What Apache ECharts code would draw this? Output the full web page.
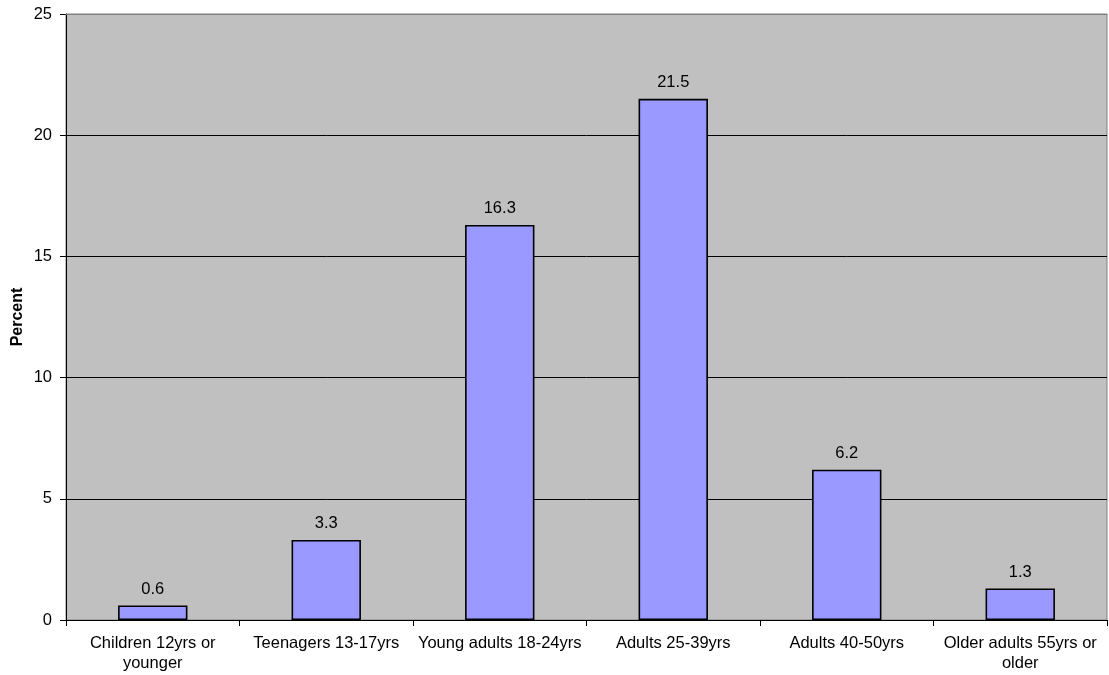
<!DOCTYPE html>
<html><head><meta charset="utf-8">
<script src="https://cdn.jsdelivr.net/npm/echarts@6/dist/echarts.min.js"></script>
<style>html,body{margin:0;padding:0;background:#fff}#c{width:1109px;height:675px}</style>
</head><body><div id="c"></div>
<script>
const categories = ["Children 12yrs or\nyounger","Teenagers 13-17yrs","Young adults 18-24yrs","Adults 25-39yrs","Adults 40-50yrs","Older adults 55yrs or\nolder"];
const values = [0.6, 3.3, 16.3, 21.5, 6.2, 1.3];
const yTicks = [0, 5, 10, 15, 20, 25];
const yAxisTitle = "Percent";

const chart = echarts.init(document.getElementById('c'));
const font = "'Liberation Sans', Arial, sans-serif";
chart.setOption({
  animation: false,
  grid: {left: 66, right: 2, top: 14, bottom: 55, outerBoundsMode: 'none', containLabel: false, show: true, backgroundColor: '#c0c0c0', borderColor: '#808080', borderWidth: 1},
  xAxis: [{
    type: 'category', data: categories,
    axisLine: {lineStyle: {color: '#000', width: 1}},
    axisTick: {show: true, length: 6, lineStyle: {color: '#000'}},
    axisLabel: {color: '#000', fontFamily: font, fontSize: 16.5, margin: 13, lineHeight: 20, interval: 0}
  }, {
    type: 'category', data: categories, position: 'top', z: 10,
    axisLine: {show: true, lineStyle: {color: '#808080', width: 1}},
    axisTick: {show: false}, axisLabel: {show: false}
  }],
  yAxis: {
    type: 'value', min: yTicks[0], max: yTicks[yTicks.length-1], interval: 5,
    name: yAxisTitle, nameLocation: 'middle', nameGap: 40, nameMoveOverlap: false,
    nameTextStyle: {color: '#000', fontFamily: font, fontSize: 16, fontWeight: 'bold'},
    axisLine: {show: true, lineStyle: {color: '#000', width: 1}},
    axisTick: {show: true, length: 6, lineStyle: {color: '#000'}},
    axisLabel: {color: '#000', fontFamily: font, fontSize: 16.5, margin: 14},
    splitLine: {show: true, lineStyle: {color: '#000', width: 1}}
  },
  series: [{
    type: 'bar', data: values, barWidth: '40%',
    itemStyle: {color: '#9999ff', borderColor: '#000', borderWidth: 1.6},
    label: {show: true, position: 'top', distance: 8, color: '#000', fontFamily: font, fontSize: 16.5}
  }]
});
</script></body></html>
